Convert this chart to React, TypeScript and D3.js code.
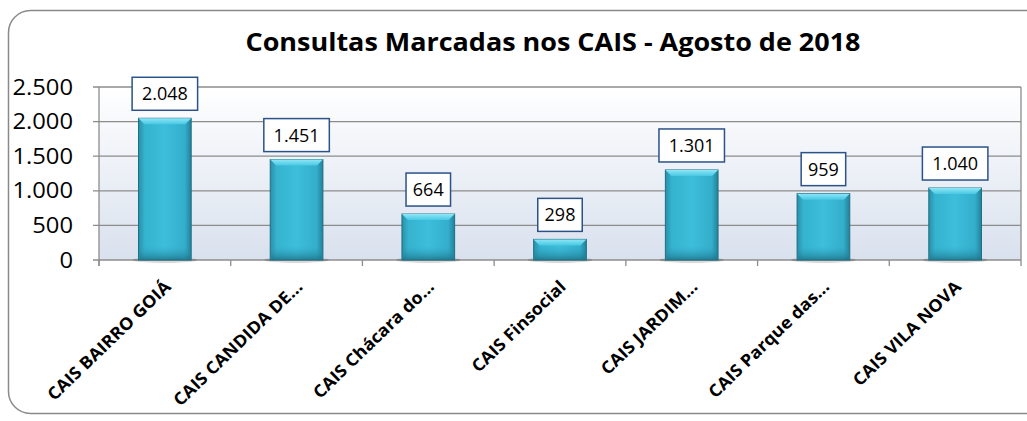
import React from 'react'
import * as d3 from 'd3'

const categories = [
	'CAIS BAIRRO GOIÁ',
	'CAIS CANDIDA DE...',
	'CAIS Chácara do...',
	'CAIS Finsocial',
	'CAIS JARDIM...',
	'CAIS Parque das...',
	'CAIS VILA NOVA',
]
const consultas = [2048, 1451, 664, 298, 1301, 959, 1040]
const yTicks = [0, 500, 1000, 1500, 2000, 2500]
const title = 'Consultas Marcadas nos CAIS - Agosto de 2018'

const W = 1027
const H = 421
const font = "'Open Sans', 'Noto Sans', sans-serif"

const ptBR = d3.formatLocale({ decimal: ',', thousands: '.', grouping: [3], currency: ['R$', ''] })
const fmt = ptBR.format(',d')

export default function App() {
	const left = 99
	const right = 1021
	const top = 87
	const bottom = 260

	const x = d3.scaleBand<string>().domain(categories).range([left, right]).paddingInner(0).paddingOuter(0)
	const y = d3.scaleLinear().domain([0, 2500]).range([bottom, top])
	const bw = x.bandwidth() * 0.4

	return (
		<svg width={W} height={H} style={{ position: 'absolute', left: 0, top: 0 }}>
			<defs>
				<linearGradient id="plotBg" x1="0" y1="0" x2="0" y2="1">
					<stop offset="0" stopColor="#ffffff" />
					<stop offset="1" stopColor="#d9e1ee" />
				</linearGradient>
				<linearGradient id="barH" x1="0" y1="0" x2="1" y2="0">
					<stop offset="0" stopColor="#2a8fa8" />
					<stop offset="0.12" stopColor="#35b3cf" />
					<stop offset="0.5" stopColor="#3dbedb" />
					<stop offset="0.88" stopColor="#33aecb" />
					<stop offset="1" stopColor="#23819a" />
				</linearGradient>
				<linearGradient id="barTop" x1="0" y1="0" x2="0" y2="1">
					<stop offset="0" stopColor="#8ee6f7" />
					<stop offset="1" stopColor="#48c8e3" />
				</linearGradient>
				<linearGradient id="barBottom" x1="0" y1="0" x2="0" y2="1">
					<stop offset="0" stopColor="#2ea2bd" stopOpacity="0" />
					<stop offset="1" stopColor="#1c6f85" stopOpacity="0.8" />
				</linearGradient>
			</defs>

			<rect x={0} y={0} width={W} height={H} fill="#ffffff" />
			<rect x={8.5} y={10.5} width={W + 20} height={403} rx={22} ry={22} fill="#ffffff" stroke="#8a8a8a" strokeWidth={1.5} />

			<text x={553} y={51} textAnchor="middle" fontFamily={font} fontWeight="bold" fontSize={25} textLength={615} lengthAdjust="spacingAndGlyphs" fill="#000">
				{title}
			</text>

			<rect x={left} y={top} width={right - left} height={bottom - top} fill="url(#plotBg)" />

			{yTicks.map((t) => (
				<g key={t}>
					<line x1={left - 6} x2={right} y1={y(t)} y2={y(t)} stroke="#8c8c8c" strokeWidth={1.3} />
					<text transform={`translate(73,${y(t) + 7.5}) scale(1.08,1)`} textAnchor="end" fontFamily={font} fontSize={22} fill="#000">
						{fmt(t)}
					</text>
				</g>
			))}
			<line x1={left} x2={left} y1={top} y2={bottom + 6} stroke="#8c8c8c" strokeWidth={1.3} />
			<line x1={right} x2={right} y1={top} y2={bottom + 6} stroke="#8c8c8c" strokeWidth={1.3} />
			{categories.map((c) => (
				<line key={c} x1={x(c)!} x2={x(c)!} y1={bottom} y2={bottom + 6} stroke="#8c8c8c" strokeWidth={1.3} />
			))}

			{categories.map((c, i) => {
				const cx = x(c)! + x.bandwidth() / 2
				const bx = cx - bw / 2
				const by = y(consultas[i])
				const bh = bottom - by
				const bev = 6
				const label = fmt(consultas[i])
				const boxW = label.length * 10.5 + 13
				const boxH = 33
				return (
					<g key={c}>
						<ellipse cx={cx} cy={bottom} rx={bw / 2 + 6} ry={3} fill="#000" opacity={0.15} />
						<rect x={bx} y={by} width={bw} height={bh} fill="url(#barH)" stroke="#1e6f84" strokeWidth={1} />
						<path d={`M${bx},${by} L${bx + bw},${by} L${bx + bw - bev},${by + bev} L${bx + bev},${by + bev} Z`} fill="url(#barTop)" />
						<rect x={bx + 1} y={Math.max(by, bottom - 14)} width={bw - 2} height={Math.min(bh, 14)} fill="url(#barBottom)" />
						<rect x={cx - boxW / 2} y={by - 8 - boxH} width={boxW} height={boxH} fill="#fff" stroke="#2b5289" strokeWidth={1.5} />
						<text x={cx} y={by - 8 - boxH / 2 + 6.5} textAnchor="middle" fontFamily={font} fontSize={18} fill="#000">
							{label}
						</text>
						<text
							transform={`translate(${cx + 7},${bottom + 28}) rotate(-44) scale(1.06,1)`}
							textAnchor="end"
							fontFamily={font}
							fontWeight="bold"
							fontSize={17}
							fill="#000"
						>
							{c}
						</text>
					</g>
				)
			})}
		</svg>
	)
}
